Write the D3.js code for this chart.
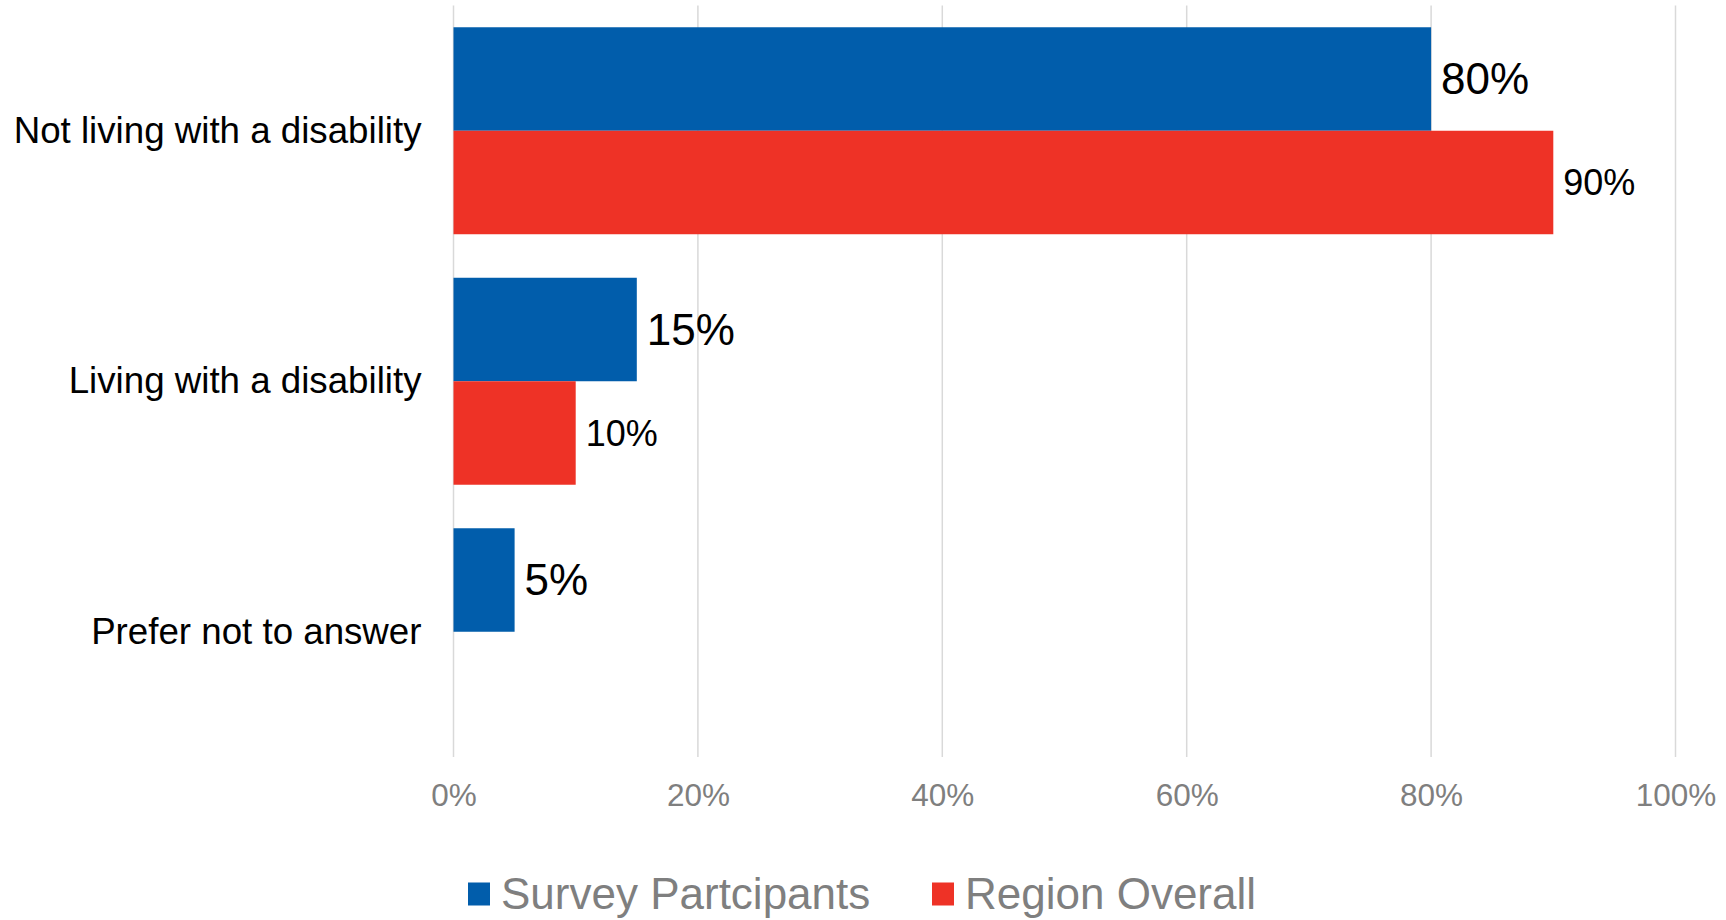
<!DOCTYPE html>
<html>
<head>
<meta charset="utf-8">
<script src="https://cdn.jsdelivr.net/npm/d3@7"></script>
<style>
  html, body { margin: 0; padding: 0; background: #fff; }
  svg { display: block; font-family: "Liberation Sans", Arial, sans-serif; }
</style>
</head>
<body>
<svg id="chart" width="1726" height="920"></svg>
<script>
// Disability status: survey participants vs. the region overall (percent)
const categories = ["Not living with a disability", "Living with a disability", "Prefer not to answer"];
const seriesNames = ["Survey Partcipants", "Region Overall"];
const surveyParticipants = [80, 15, 5];
const regionOverall = [90, 10, null];
const xTicks = [0, 20, 40, 60, 80, 100];

const seriesValues = [surveyParticipants, regionOverall];
const colors = ["#015DAB", "#EE3226"];
const labelSizes = [44, 36];

const svg = d3.select("#chart");

const plot = { left: 453.5, right: 1675.5, top: 5.5, bottom: 757 };

const x = d3.scaleLinear().domain([0, 100]).range([plot.left, plot.right]);

const y = d3.scaleBand()
  .domain(categories)
  .range([plot.top, plot.bottom])
  .paddingInner(0.1737)
  .paddingOuter(0.1737 / 2);

const ySeries = d3.scaleBand()
  .domain(seriesNames)
  .range([0, y.bandwidth()]);

// Vertical gridlines
svg.append("g")
  .selectAll("line")
  .data(xTicks)
  .join("line")
  .attr("x1", d => x(d)).attr("x2", d => x(d))
  .attr("y1", plot.top).attr("y2", plot.bottom)
  .attr("stroke", "#d9d9d9")
  .attr("stroke-width", 1.5);

// Bottom axis tick labels
const xAxis = d3.axisBottom(x)
  .tickValues(xTicks)
  .tickFormat(d => d + "%")
  .tickSize(0)
  .tickPadding(0);

const gx = svg.append("g")
  .attr("transform", `translate(0, ${plot.bottom})`)
  .call(xAxis);
gx.select(".domain").remove();
gx.selectAll("text")
  .attr("y", 38)
  .attr("dy", "0.35em")
  .attr("fill", "#7f7f7f")
  .style("font-size", "31.5px")
  .style("font-family", "'Liberation Sans', Arial, sans-serif");

// Category axis labels
const yAxis = d3.axisLeft(y).tickSize(0).tickPadding(32);
const gy = svg.append("g")
  .attr("transform", `translate(${plot.left}, 0)`)
  .call(yAxis);
gy.select(".domain").remove();
gy.selectAll("text")
  .attr("fill", "#000")
  .style("font-size", "36.7px")
  .style("font-family", "'Liberation Sans', Arial, sans-serif");

// Bars and value labels
const rows = [];
categories.forEach((c, i) => {
  seriesNames.forEach((s, j) => {
    const v = seriesValues[j][i];
    if (v != null) rows.push({ category: c, series: s, value: v, si: j });
  });
});

const bars = svg.append("g");
bars.selectAll("rect")
  .data(rows)
  .join("rect")
  .attr("x", x(0))
  .attr("y", d => y(d.category) + ySeries(d.series))
  .attr("width", d => x(d.value) - x(0))
  .attr("height", ySeries.bandwidth())
  .attr("fill", d => colors[d.si]);

svg.append("g")
  .selectAll("text")
  .data(rows)
  .join("text")
  .attr("x", d => x(d.value) + 10)
  .attr("y", d => y(d.category) + ySeries(d.series) + ySeries.bandwidth() / 2)
  .attr("dy", "0.35em")
  .attr("fill", "#000")
  .style("font-size", d => labelSizes[d.si] + "px")
  .text(d => d.value + "%");

// Legend
const legendItems = [
  { name: seriesNames[0], color: colors[0], x: 468 },
  { name: seriesNames[1], color: colors[1], x: 932 }
];
const legend = svg.append("g");
const li = legend.selectAll("g")
  .data(legendItems)
  .join("g")
  .attr("transform", d => `translate(${d.x}, 894)`);
li.append("rect")
  .attr("x", 0).attr("y", -11.5)
  .attr("width", 22).attr("height", 23)
  .attr("fill", d => d.color);
li.append("text")
  .attr("x", 33)
  .attr("y", 0)
  .attr("dy", "0.35em")
  .attr("fill", "#7f7f7f")
  .style("font-size", "44px")
  .text(d => d.name);
</script>
</body>
</html>
